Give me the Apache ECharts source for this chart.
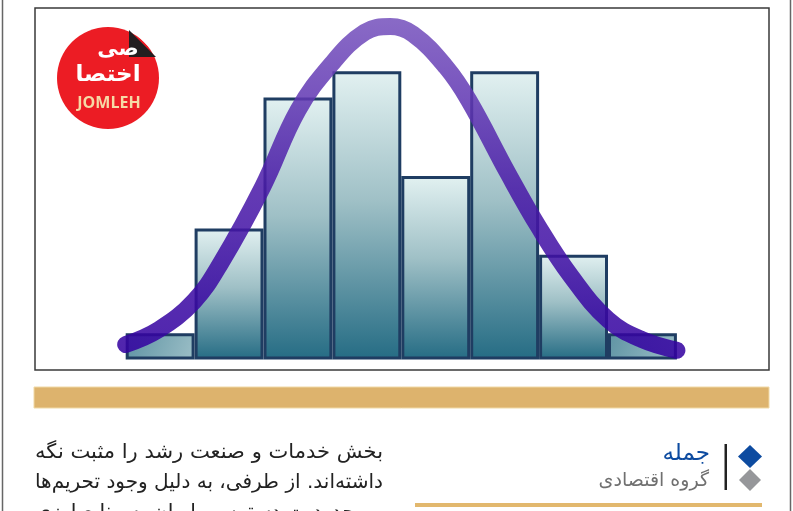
<!DOCTYPE html>
<html>
<head>
<meta charset="utf-8">
<script src="https://cdn.jsdelivr.net/npm/echarts@6/dist/echarts.min.js"></script>
<style>html,body{margin:0;padding:0;background:#fff;}#c{width:793px;height:511px;}</style>
</head>
<body>
<div id="c"></div>
<script>
// Histogram bins and frequencies
const categories = ['1', '2', '3', '4', '5', '6', '7', '8'];
const barValues = [1, 5, 10, 11, 7, 11, 4, 1];
// Fitted bell curve (x in bin units, y in frequency units)
const curveX = [0, 0.48, 0.99, 1.38, 1.99, 2.5, 2.99, 3.47, 3.84, 4.17, 4.65, 4.98, 5.55, 5.99, 6.46, 7.0, 7.49, 8.0];
const curveY = [0.57, 1.14, 2.22, 3.68, 6.6, 9.51, 11.29, 12.49, 12.71, 12.42, 11.16, 9.89, 7.10, 5.07, 3.19, 1.52, 0.76, 0.35];
// Texts
const logoTop = 'صی';
const logoMain = 'اختصا';
const logoLatin = 'JOMLEH';
const brandName = 'جمله';
const brandGroup = 'گروه اقتصادی';
const bodyLines = [
  'بخش خدمات و صنعت رشد را مثبت نگه',
  'داشته‌اند. از طرفی، به دلیل وجود تحریم‌ها',
  'و محدودیت دسترسی ایران به منابع ارزی'
];

const curveData = curveX.map((x, i) => [x, curveY[i]]);
const chart = echarts.init(document.getElementById('c'));
const G = echarts.graphic;

function barColor(p) {
  if (p.value >= 3) {
    return new G.LinearGradient(0, 0, 0, 1, [
      {offset: 0, color: '#e2f1f1'},
      {offset: 0.45, color: '#9fc0c6'},
      {offset: 1, color: '#256c84'}
    ]);
  }
  return new G.LinearGradient(0, 0, 1, 1, [
    {offset: 0, color: '#5e93a3'},
    {offset: 1, color: '#9cbfc7'}
  ]);
}

const bodyFont = '20px "DejaVu Sans"';
const measure = document.createElement('canvas').getContext('2d');
measure.font = bodyFont;

const graphics = [
  {type: 'line', shape: {x1: 2.5, y1: 0, x2: 2.5, y2: 511}, style: {stroke: '#666', lineWidth: 1.5}, z: 1},
  {type: 'line', shape: {x1: 790.5, y1: 0, x2: 790.5, y2: 511}, style: {stroke: '#666', lineWidth: 1.5}, z: 1},
  {type: 'rect', shape: {x: 35, y: 8, width: 734, height: 362}, style: {fill: 'none', stroke: '#3a3a3a', lineWidth: 1.5}, z: 1},
  // logo
  {type: 'circle', shape: {cx: 108, cy: 78, r: 51}, style: {fill: '#ec1c24'}, z: 10},
  {type: 'polygon', shape: {points: [[129, 27], [160, 27], [160, 58]]}, style: {fill: '#fff'}, z: 11},
  {type: 'polygon', shape: {points: [[129, 30], [129, 57], [156, 57]]}, style: {fill: '#231f20'}, z: 12},
  {type: 'text', x: 118, y: 50, style: {text: logoTop, fill: '#fff', font: 'bold 21px "DejaVu Sans"', align: 'center', verticalAlign: 'middle'}, z: 12},
  {type: 'text', x: 108, y: 75, style: {text: logoMain, fill: '#fff', font: 'bold 23px "DejaVu Sans"', align: 'center', verticalAlign: 'middle'}, z: 12},
  {type: 'text', x: 109, y: 103, style: {text: logoLatin, fill: '#f6d9a6', font: 'bold 16px "Open Sans"', align: 'center', verticalAlign: 'middle'}, z: 12},
  // gold band
  {type: 'rect', shape: {x: 34, y: 387, width: 735, height: 21}, style: {fill: '#ddb36d', stroke: '#f0d9a6', lineWidth: 1}, z: 1},
  // brand block
  {type: 'polygon', shape: {points: [[750, 445], [762, 456.5], [750, 468], [738, 456.5]]}, style: {fill: '#0d4ba0'}, z: 1},
  {type: 'polygon', shape: {points: [[750, 469], [761, 480], [750, 491], [739, 480]]}, style: {fill: '#96979a'}, z: 1},
  {type: 'rect', shape: {x: 724.5, y: 444, width: 2.5, height: 46}, style: {fill: '#222'}, z: 1},
  {type: 'text', x: 710, y: 454, style: {text: brandName, fill: '#0d4ba0', font: '23px "DejaVu Sans"', align: 'right', verticalAlign: 'middle'}, z: 1},
  {type: 'text', x: 709, y: 481, style: {text: brandGroup, fill: '#707070', font: '19px "DejaVu Sans"', align: 'right', verticalAlign: 'middle'}, z: 1},
  {type: 'rect', shape: {x: 415, y: 503, width: 347, height: 4}, style: {fill: '#e2b86e'}, z: 1}
];
bodyLines.forEach((t, i) => {
  const w = measure.measureText(t).width || 340;
  const sx = Math.min(1.2, 348 / w);
  graphics.push({type: 'text', x: 383, y: 453 + i * 30, scaleX: sx, style: {text: t, fill: '#222', font: bodyFont, align: 'right', verticalAlign: 'middle'}, z: 1});
});

chart.setOption({
  animation: false,
  backgroundColor: '#fff',
  grid: {left: 125.7, right: 116.1, top: 18.9, bottom: 151.5},
  xAxis: [
    {type: 'category', data: categories, show: false, boundaryGap: true},
    {type: 'value', min: 0, max: 8, show: false}
  ],
  yAxis: {type: 'value', min: 0, max: 13, show: false, splitLine: {show: false}},
  graphic: graphics,
  series: [
    {
      type: 'bar', data: barValues, xAxisIndex: 0, barCategoryGap: '0%', barGap: '0%',
      itemStyle: {color: barColor, borderColor: '#1f3d62', borderWidth: 3},
      z: 2
    },
    {
      type: 'line', data: curveData, xAxisIndex: 1, smooth: 0.4, symbol: 'none', clip: false,
      lineStyle: {
        width: 17, cap: 'round', join: 'round', opacity: 0.86,
        color: new G.LinearGradient(0, 0, 0, 1, [
          {offset: 0, color: '#7652bd'},
          {offset: 0.5, color: '#4a1aa8'},
          {offset: 1, color: '#3200a0'}
        ])
      },
      z: 3
    }
  ]
});
</script>
</body>
</html>
